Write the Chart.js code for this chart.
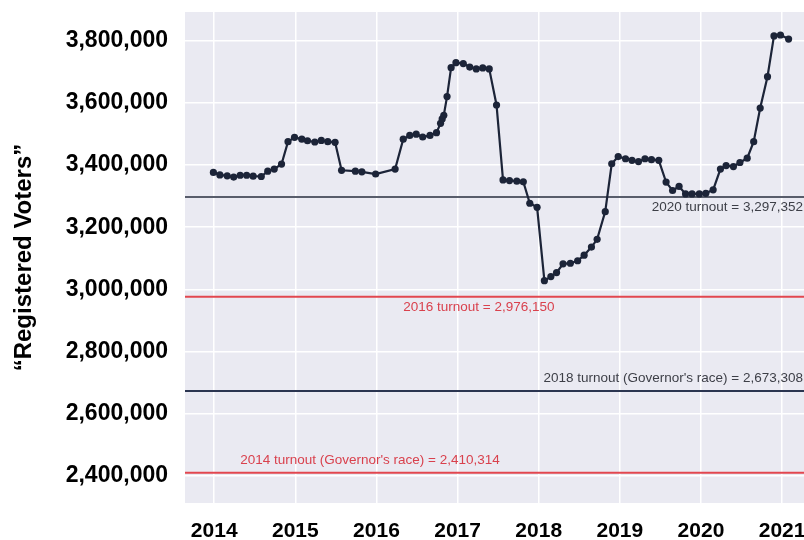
<!DOCTYPE html>
<html>
<head>
<meta charset="utf-8">
<script src="https://cdn.jsdelivr.net/npm/chart.js@4/dist/chart.umd.min.js"></script>
<style>
  html, body { margin: 0; padding: 0; background: #fff; }
  #wrap { width: 804px; height: 540px; position: relative; }
</style>
</head>
<body>
<div id="wrap"><canvas id="chart"></canvas></div>
<script>
// month positions as decimal years
const dates = [
    2013.99, 2014.07, 2014.16, 2014.24, 2014.32, 2014.40, 2014.48, 2014.58, 2014.66, 2014.74,
    2014.83, 2014.91, 2014.99, 2015.08, 2015.15, 2015.24, 2015.32, 2015.40, 2015.49, 2015.57,
    2015.74, 2015.82, 2015.99, 2016.23, 2016.33, 2016.41, 2016.49, 2016.57, 2016.66, 2016.74,
    2016.79, 2016.81, 2016.83, 2016.87, 2016.92, 2016.98, 2017.07, 2017.15, 2017.23, 2017.31,
    2017.39, 2017.48, 2017.56, 2017.64, 2017.73, 2017.81, 2017.89, 2017.98, 2018.07, 2018.15,
    2018.22, 2018.30, 2018.39, 2018.48, 2018.56, 2018.65, 2018.72, 2018.82, 2018.90, 2018.98,
    2019.07, 2019.15, 2019.23, 2019.31, 2019.39, 2019.48, 2019.57, 2019.65, 2019.73, 2019.81,
    2019.89, 2019.98, 2020.06, 2020.15, 2020.24, 2020.31, 2020.40, 2020.48, 2020.57, 2020.65,
    2020.73, 2020.82, 2020.90, 2020.98, 2021.08
];

const voters = [
    3376000, 3368000, 3365000, 3361000, 3367000, 3367000, 3364000, 3363000, 3380000, 3387000,
    3403000, 3475000, 3489000, 3483000, 3478000, 3474000, 3479000, 3475000, 3473000, 3383000,
    3380000, 3378000, 3371000, 3387000, 3483000, 3495000, 3499000, 3490000, 3495000, 3504000,
    3534000, 3548000, 3560000, 3620000, 3713000, 3729000, 3726000, 3715000, 3709000, 3712000,
    3709000, 3593000, 3352000, 3350000, 3348000, 3346000, 3277000, 3264000, 3028000, 3041000,
    3054000, 3082000, 3084000, 3092000, 3110000, 3136000, 3161000, 3250000, 3404000, 3427000,
    3420000, 3415000, 3411000, 3420000, 3417000, 3415000, 3345000, 3318000, 3331000, 3307000,
    3307000, 3307000, 3309000, 3320000, 3387000, 3398000, 3395000, 3408000, 3422000, 3475000,
    3583000, 3684000, 3815000, 3818000, 3805000
];

const turnoutValues = [3297352, 2976150, 2673308, 2410314];
const turnoutLabels = [
    '2020 turnout = 3,297,352',
    '2016 turnout = 2,976,150',
    "2018 turnout (Governor's race) = 2,673,308",
    "2014 turnout (Governor's race) = 2,410,314"
];
const turnoutColors = ['#585d6b', '#e2474f', '#2b3550', '#e2474f'];
const turnoutTextColors = ['#3d3f47', '#d9414d', '#3d3f47', '#d9414d'];

const xTicks = [2014, 2015, 2016, 2017, 2018, 2019, 2020, 2021];
const yTicks = [2400000, 2600000, 2800000, 3000000, 3200000, 3400000, 3600000, 3800000];

const xMin = 2013.64, xMax = 2021.27;
const yMin = 2313000, yMax = 3892000;

// where each turnout label sits: [anchor x (year or null = right edge), pixel offset from line]
const labelPlace = [[null, 10], [2016.33, 10], [null, -13], [2014.32, -12]];

const bgPlugin = {
    id: 'bg',
    beforeDraw: function (chart) {
        const a = chart.chartArea;
        const ctx = chart.ctx;
        ctx.save();
        ctx.fillStyle = '#eaeaf2';
        ctx.fillRect(a.left, a.top, a.right - a.left, a.bottom - a.top);
        ctx.restore();
    }
};

const labelPlugin = {
    id: 'turnoutLabels',
    afterDatasetsDraw: function (chart) {
        const ctx = chart.ctx;
        const xs = chart.scales.x, ys = chart.scales.y;
        ctx.save();
        ctx.font = '13.5px "Liberation Sans", Arial, sans-serif';
        ctx.textBaseline = 'middle';
        turnoutLabels.forEach(function (txt, i) {
            const place = labelPlace[i];
            const y = ys.getPixelForValue(turnoutValues[i]) + place[1];
            ctx.fillStyle = turnoutTextColors[i];
            if (place[0] === null) {
                ctx.textAlign = 'right';
                ctx.fillText(txt, chart.chartArea.right - 1, y);
            } else {
                ctx.textAlign = 'left';
                ctx.fillText(txt, xs.getPixelForValue(place[0]), y);
            }
        });
        ctx.restore();
    }
};

const datasets = [{
    label: 'Registered Voters',
    data: dates.map(function (d, i) { return { x: d, y: voters[i] }; }),
    borderColor: '#1c2438',
    backgroundColor: '#1c2438',
    borderWidth: 2.2,
    pointRadius: 3.6,
    pointBorderWidth: 0,
    tension: 0,
    order: 0
}];

turnoutValues.forEach(function (v, i) {
    datasets.push({
        label: turnoutLabels[i],
        data: [{ x: xMin, y: v }, { x: xMax, y: v }],
        borderColor: turnoutColors[i],
        borderWidth: 2,
        pointRadius: 0,
        order: 1
    });
});

new Chart(document.getElementById('chart'), {
    type: 'line',
    data: { datasets: datasets },
    options: {
        responsive: true,
        maintainAspectRatio: false,
        animation: false,
        layout: {
            autoPadding: false,
            padding: { top: 12, right: 0, left: 0, bottom: 0 }
        },
        plugins: {
            legend: { display: false },
            tooltip: { enabled: false }
        },
        scales: {
            x: {
                type: 'linear',
                min: xMin,
                max: xMax,
                afterFit: function (axis) {
                    axis.height = 37;
                    axis.paddingLeft = 0;
                    axis.paddingRight = 0;
                },
                afterBuildTicks: function (axis) {
                    axis.ticks = xTicks.map(function (v) { return { value: v }; });
                },
                grid: { color: '#ffffff', lineWidth: 1.5, drawTicks: false },
                border: { display: false },
                ticks: {
                    padding: 16,
                    maxRotation: 0,
                    autoSkip: false,
                    color: '#000',
                    font: { family: '"Liberation Sans", Arial, sans-serif', size: 21, weight: 'bold' },
                    callback: function (v) { return String(v); }
                }
            },
            y: {
                min: yMin,
                max: yMax,
                afterFit: function (axis) {
                    axis.width = 185;
                    axis.paddingTop = 0;
                    axis.paddingBottom = 0;
                },
                afterBuildTicks: function (axis) {
                    axis.ticks = yTicks.map(function (v) { return { value: v }; });
                },
                grid: { color: '#ffffff', lineWidth: 1.5, drawTicks: false },
                border: { display: false },
                title: {
                    display: true,
                    text: '\u201cRegistered Voters\u201d',
                    color: '#000',
                    padding: { top: 10, bottom: 0 },
                    font: { family: '"Liberation Sans", Arial, sans-serif', size: 24, weight: 'bold' }
                },
                ticks: {
                    padding: 17,
                    color: '#000',
                    font: { family: '"Liberation Sans", Arial, sans-serif', size: 23, weight: 'bold' },
                    callback: function (v) { return v.toLocaleString('en-US'); }
                }
            }
        }
    },
    plugins: [bgPlugin, labelPlugin]
});
</script>
</body>
</html>
